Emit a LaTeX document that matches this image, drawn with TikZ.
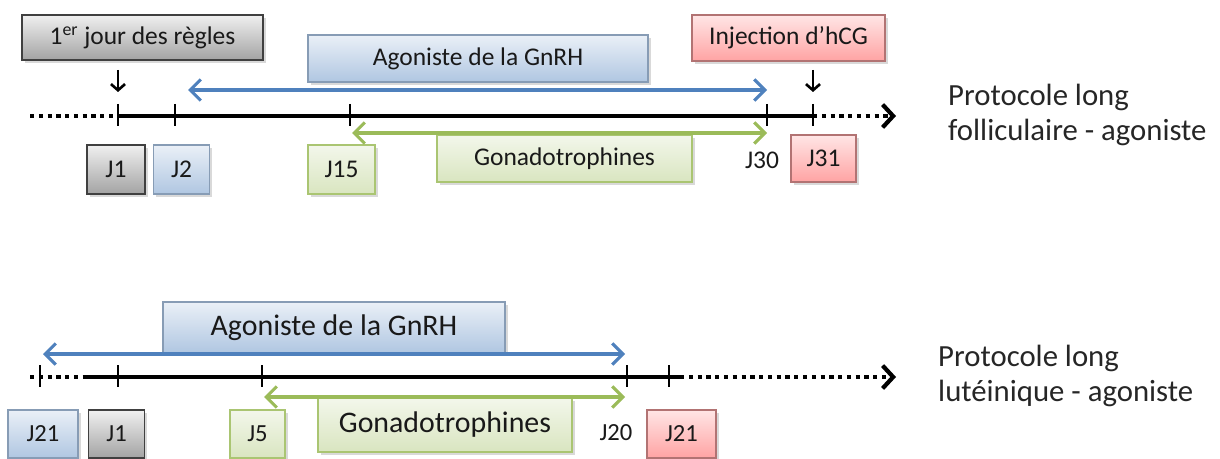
\documentclass[tikz,border=0pt]{standalone}
\usepackage{fontspec}
\setmainfont{Carlito}
\usetikzlibrary{arrows.meta,positioning,shadows,calc}

\definecolor{bleuF}{HTML}{4F81BD}
\definecolor{vertF}{HTML}{9BBB59}

\tikzset{
  boite/.style={draw, line width=0.9pt, inner sep=0pt, text=black!90,
    font=\fontsize{14.5}{17}\selectfont,
    drop shadow={shadow xshift=1.6pt, shadow yshift=-1.6pt, opacity=0.3}},
  grise/.style={boite, draw=black!75, top color=black!6, bottom color=black!36},
  bleue/.style={boite, draw=bleuF!70!black!60, top color=bleuF!12, bottom color=bleuF!45},
  rouge/.style={boite, draw=red!45!black!55, top color=red!10, bottom color=red!36},
  verte/.style={boite, draw=vertF!85, top color=vertF!12, bottom color=vertF!38},
  axe/.style={line width=2.4pt},
  pointille/.style={line width=2.4pt, dash pattern=on 2.4pt off 2.6pt},
  tic/.style={line width=1.3pt},
  fleche/.style={line width=1.8pt, {Straight Barb[length=6pt,width=12pt]}-{Straight Barb[length=6pt,width=12pt]}},
  pointeur/.style={line width=1.5pt, -{Straight Barb[length=3.5pt,width=8pt]}},
  bout/.style={-{Straight Barb[length=6pt,width=13pt]}}
}

\begin{document}
\begin{tikzpicture}[x=0.02cm, y=-0.02cm]
    \useasboundingbox (0,0) rectangle (1220,459);

    % protocole long folliculaire
    \coordinate (dT) at (30,116);
    \coordinate (t1) at (118,116);
    \coordinate (t2) at (175,116);
    \coordinate (t15) at (350,116);
    \coordinate (t30) at (767,116);
    \coordinate (t31) at (813,116);
    \coordinate (fT) at (896,116);

    \node[grise, minimum width=4.82cm, minimum height=0.9cm] (regles) at (142.5,37.5) {1\textsuperscript{er} jour des règles};
    \node[bleue, minimum width=6.8cm, minimum height=0.94cm] (agoT) at (478,58.5) {Agoniste de la GnRH};
    \node[rouge, minimum width=3.86cm, minimum height=0.92cm] (hcg) at (788.5,38) {Injection d'hCG};
    \node[verte, minimum width=5.1cm, minimum height=0.94cm] (gonaT) at (564.5,158.5) {Gonadotrophines};

    \node[grise, minimum width=1.16cm, minimum height=0.98cm] (j1T) at (116,169.5) {J1};
    \node[bleue, minimum width=1.12cm, minimum height=0.98cm, right=0.14cm of j1T] (j2T) {J2};
    \node[verte, minimum width=1.34cm, minimum height=0.98cm] (j15T) at (341.5,169.5) {J15};
    \node[font=\fontsize{14.5}{17}\selectfont, text=black!90] (j30T) at (762,160) {J30};
    \node[rouge, minimum width=1.3cm, minimum height=0.94cm] (j31T) at (823.5,158.5) {J31};

    \node[anchor=west, align=left, font=\fontsize{17.5}{19.5}\selectfont, text=black!85] (protoT) at (942,115) {Protocole long\\folliculaire - agoniste};

    \draw[pointille] (dT) -- (t1);
    \draw[axe] (t1) -- (t31);
    \draw[pointille, bout] (t31) -- (fT);
    \foreach \t in {t1,t2,t15,t30,t31}
      \draw[tic] (\t) ++(0,-12) -- ++(0,22);

    \coordinate (bT1) at (188,90);
    \coordinate (bT2) at (767,90);
    \coordinate (vT1) at (352,133);
    \coordinate (vT2) at (767,133);
    \draw[fleche, bleuF] (bT1) -- (bT2);
    \draw[fleche, vertF] (vT1) -- (vT2);

    \coordinate (p1) at (118,70);
    \coordinate (p2) at (813,70);
    \draw[pointeur] (p1) -- ($(t1)+(0,-24)$);
    \draw[pointeur] (p2) -- ($(t31)+(0,-24)$);

    % protocole long luteinique
    \coordinate (dB) at (30,377);
    \coordinate (u21) at (40,377);
    \coordinate (mB) at (85,377);
    \coordinate (u1) at (118,377);
    \coordinate (u5) at (262,377);
    \coordinate (u20) at (627,377);
    \coordinate (u21b) at (669,377);
    \coordinate (nB) at (680,377);
    \coordinate (fB) at (896,377);

    \node[bleue, minimum width=6.84cm, minimum height=1.02cm, font=\fontsize{17}{20}\selectfont] (agoB) at (334,327.5) {Agoniste de la GnRH};
    \node[verte, minimum width=5.08cm, minimum height=1.08cm, font=\fontsize{17}{20}\selectfont] (gonaB) at (445,425) {Gonadotrophines};

    \node[bleue, minimum width=1.4cm, minimum height=0.96cm, font=\fontsize{14}{17}\selectfont] (j21B) at (43,434) {J21};
    \node[grise, minimum width=1.12cm, minimum height=0.96cm, font=\fontsize{14}{17}\selectfont, right=0.18cm of j21B] (j1B) {J1};
    \node[verte, minimum width=1.1cm, minimum height=0.96cm, font=\fontsize{14}{17}\selectfont] (j5B) at (257.5,434) {J5};
    \node[font=\fontsize{14}{17}\selectfont, text=black!90] (j20B) at (616,433) {J20};
    \node[rouge, minimum width=1.38cm, minimum height=0.96cm, font=\fontsize{14}{17}\selectfont] (j21c) at (681.5,434) {J21};

    \node[anchor=west, align=left, font=\fontsize{17.5}{19.5}\selectfont, text=black!85] (protoB) at (932,376) {Protocole long\\lutéinique - agoniste};

    \draw[pointille] (dB) -- (mB);
    \draw[axe] (mB) -- (nB);
    \draw[pointille, bout] (nB) -- (fB);
    \foreach \t in {u21,u1,u5,u20,u21b}
      \draw[tic] (\t) ++(0,-12) -- ++(0,22);

    \coordinate (bB1) at (43,354);
    \coordinate (bB2) at (625,354);
    \coordinate (vB1) at (264,397);
    \coordinate (vB2) at (625,397);
    \draw[fleche, bleuF] (bB1) -- (bB2);
    \draw[fleche, vertF] (vB1) -- (vB2);
\end{tikzpicture}
\end{document}
